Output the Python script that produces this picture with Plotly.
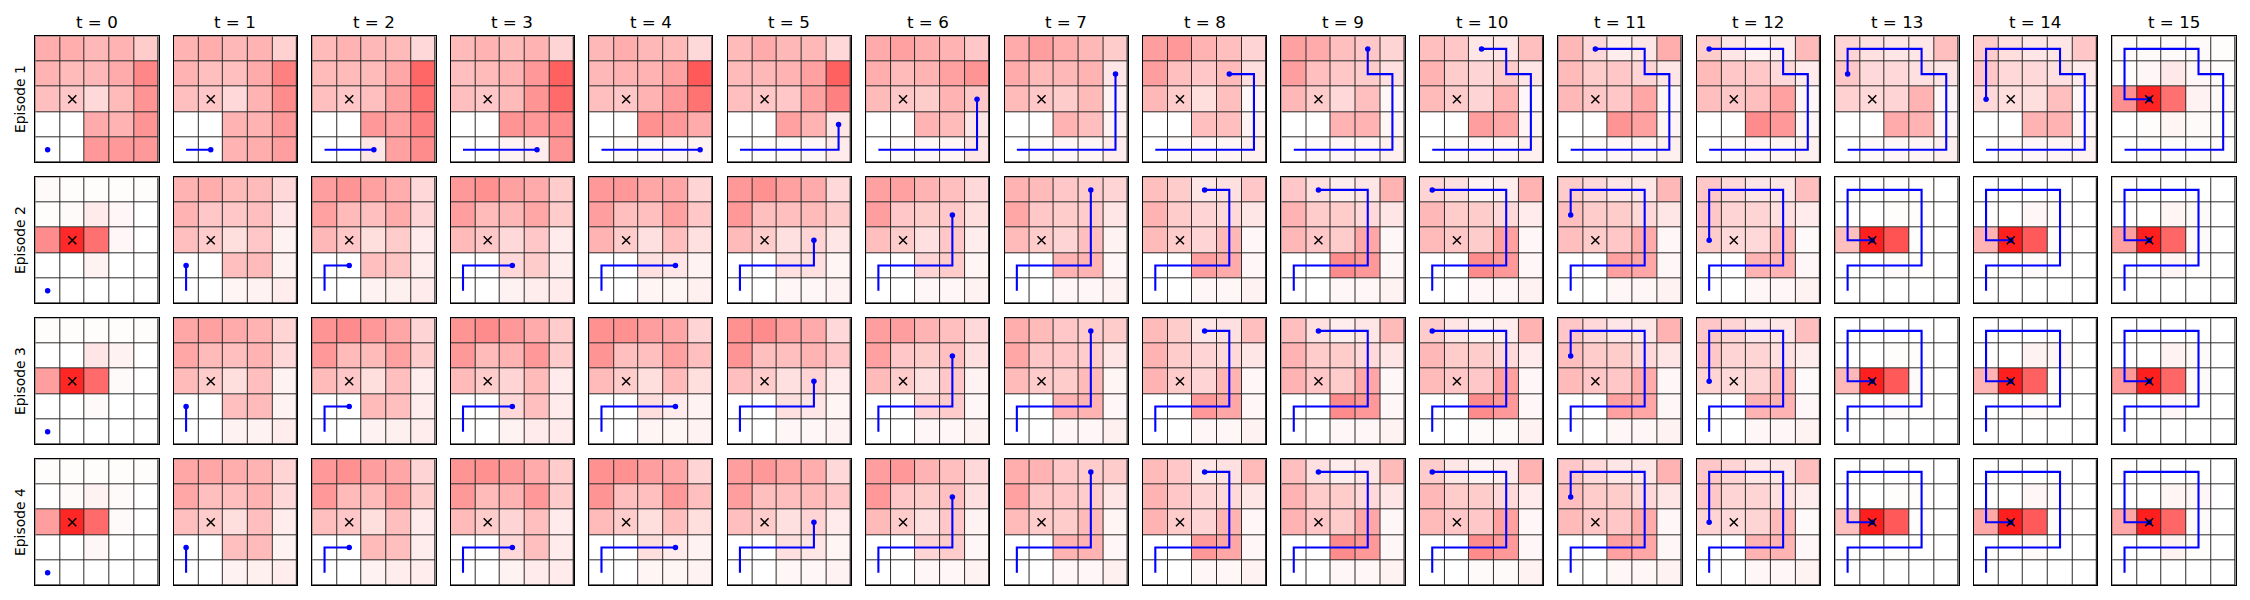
import plotly.graph_objects as go

# ---------------- data ----------------
time_steps = list(range(16))
episode_labels = ["Episode 1", "Episode 2", "Episode 3", "Episode 4"]
goal_col, goal_row = 1, 2

# agent positions (column, row from top) at each time step
ep1_path_cols = [0, 1, 2, 3, 4, 4, 4, 4, 3, 3, 2, 1, 0, 0, 0, 1]
ep1_path_rows = [4, 4, 4, 4, 4, 3, 2, 1, 1, 0, 0, 0, 0, 1, 2, 2]
ep2_path_cols = [0, 0, 1, 2, 3, 3, 3, 3, 2, 1, 0, 0, 0, 1, 1, 1]
ep2_path_rows = [4, 3, 3, 3, 3, 2, 1, 0, 0, 0, 0, 1, 2, 2, 2, 2]
ep3_path_cols = [0, 0, 1, 2, 3, 3, 3, 3, 2, 1, 0, 0, 0, 1, 1, 1]
ep3_path_rows = [4, 3, 3, 3, 3, 2, 1, 0, 0, 0, 0, 1, 2, 2, 2, 2]
ep4_path_cols = [0, 0, 1, 2, 3, 3, 3, 3, 2, 1, 0, 0, 0, 1, 1, 1]
ep4_path_rows = [4, 3, 3, 3, 3, 2, 1, 0, 0, 0, 0, 1, 2, 2, 2, 2]

# 5x5 maps per time step (rows top -> bottom)
ep1_heat = [
    [[0.32, 0.32, 0.28, 0.30, 0.20], [0.30, 0.27, 0.28, 0.33, 0.47], [0.25, 0.22, 0.15, 0.27, 0.42], [0, 0, 0.33, 0.30, 0.42], [0, 0, 0.40, 0.40, 0.40]],
    [[0.30, 0.32, 0.28, 0.30, 0.18], [0.30, 0.25, 0.25, 0.33, 0.50], [0.25, 0.22, 0.15, 0.30, 0.45], [0, 0, 0.30, 0.30, 0.40], [0, 0, 0.30, 0.32, 0.38]],
    [[0.27, 0.30, 0.28, 0.27, 0.15], [0.27, 0.27, 0.27, 0.35, 0.60], [0.25, 0.22, 0.25, 0.37, 0.55], [0, 0, 0.40, 0.37, 0.50], [0, 0, 0.10, 0.37, 0.45]],
    [[0.27, 0.30, 0.27, 0.30, 0.17], [0.25, 0.27, 0.30, 0.40, 0.62], [0.25, 0.22, 0.27, 0.42, 0.58], [0, 0, 0.42, 0.40, 0.45], [0, 0, 0.05, 0.07, 0.42]],
    [[0.28, 0.32, 0.28, 0.27, 0.15], [0.28, 0.30, 0.30, 0.37, 0.65], [0.25, 0.22, 0.30, 0.40, 0.55], [0, 0, 0.43, 0.40, 0.33], [0, 0.02, 0.03, 0.03, 0.05]],
    [[0.27, 0.33, 0.28, 0.28, 0.15], [0.27, 0.28, 0.30, 0.37, 0.62], [0.25, 0.22, 0.22, 0.37, 0.50], [0, 0, 0.37, 0.30, 0.10], [0, 0.01, 0.02, 0.03, 0.08]],
    [[0.33, 0.37, 0.32, 0.30, 0.22], [0.32, 0.27, 0.30, 0.37, 0.42], [0.27, 0.22, 0.20, 0.30, 0.22], [0, 0, 0.30, 0.27, 0.10], [0, 0.02, 0.03, 0.04, 0.10]],
    [[0.33, 0.38, 0.32, 0.28, 0.20], [0.33, 0.27, 0.28, 0.30, 0.10], [0.27, 0.22, 0.20, 0.27, 0.05], [0, 0, 0.30, 0.25, 0.05], [0, 0.02, 0.03, 0.04, 0.07]],
    [[0.38, 0.40, 0.30, 0.25, 0.17], [0.38, 0.25, 0.22, 0.27, 0.13], [0.28, 0.20, 0.13, 0.25, 0.03], [0, 0, 0.25, 0.25, 0.05], [0, 0.02, 0.03, 0.04, 0.06]],
    [[0.37, 0.33, 0.25, 0.22, 0.17], [0.38, 0.25, 0.22, 0.20, 0.12], [0.28, 0.20, 0.15, 0.25, 0.03], [0, 0, 0.30, 0.30, 0.04], [0, 0.02, 0.03, 0.04, 0.06]],
    [[0.25, 0.22, 0.10, 0.10, 0.25], [0.30, 0.20, 0.17, 0.20, 0.10], [0.27, 0.20, 0.17, 0.30, 0.03], [0, 0, 0.38, 0.35, 0.04], [0, 0.02, 0.03, 0.04, 0.06]],
    [[0.28, 0.15, 0.07, 0.10, 0.32], [0.27, 0.20, 0.22, 0.17, 0.10], [0.28, 0.22, 0.22, 0.35, 0.03], [0, 0, 0.42, 0.37, 0.04], [0, 0.02, 0.03, 0.04, 0.06]],
    [[0.20, 0.10, 0.05, 0.07, 0.27], [0.27, 0.22, 0.22, 0.15, 0.08], [0.25, 0.22, 0.25, 0.37, 0.03], [0, 0, 0.45, 0.40, 0.03], [0, 0.02, 0.03, 0.04, 0.06]],
    [[0.17, 0.12, 0.10, 0.10, 0.25], [0.22, 0.15, 0.15, 0.12, 0.10], [0.18, 0.15, 0.17, 0.30, 0.03], [0, 0, 0.33, 0.30, 0.03], [0, 0.02, 0.03, 0.04, 0.06]],
    [[0.20, 0.13, 0.10, 0.10, 0.22], [0.22, 0.15, 0.15, 0.12, 0.08], [0.15, 0.13, 0.13, 0.25, 0.03], [0, 0, 0.30, 0.30, 0.03], [0, 0.02, 0.03, 0.04, 0.05]],
    [[0.02, 0.02, 0.02, 0.02, 0.01], [0.01, 0.03, 0.09, 0.03, 0.01], [0.44, 0.86, 0.56, 0.05, 0.02], [0, 0.01, 0.04, 0.02, 0.01], [0, 0.01, 0.01, 0.01, 0.01]],
]

ep2_heat = [
    [[0.02, 0.01, 0.01, 0.01, 0.01], [0.01, 0.02, 0.08, 0.03, 0], [0.45, 0.84, 0.56, 0.03, 0], [0, 0, 0.05, 0, 0], [0, 0, 0, 0, 0]],
    [[0.30, 0.32, 0.27, 0.27, 0.15], [0.30, 0.22, 0.22, 0.25, 0.10], [0.25, 0.20, 0.13, 0.22, 0.05], [0, 0, 0.25, 0.27, 0.05], [0, 0, 0.04, 0.05, 0.07]],
    [[0.38, 0.42, 0.37, 0.32, 0.15], [0.37, 0.27, 0.25, 0.33, 0.17], [0.28, 0.22, 0.13, 0.20, 0.08], [0, 0, 0.25, 0.23, 0.07], [0, 0, 0.05, 0.06, 0.08]],
    [[0.40, 0.43, 0.37, 0.33, 0.20], [0.38, 0.27, 0.28, 0.35, 0.20], [0.27, 0.22, 0.15, 0.22, 0.08], [0, 0, 0.15, 0.20, 0.07], [0, 0, 0.05, 0.07, 0.08]],
    [[0.40, 0.40, 0.35, 0.35, 0.17], [0.38, 0.25, 0.25, 0.37, 0.22], [0.30, 0.20, 0.12, 0.25, 0.12], [0, 0, 0.12, 0.10, 0.05], [0, 0, 0.04, 0.04, 0.06]],
    [[0.40, 0.43, 0.37, 0.33, 0.15], [0.40, 0.25, 0.25, 0.27, 0.20], [0.27, 0.20, 0.12, 0.17, 0.10], [0, 0, 0.12, 0.12, 0.04], [0, 0, 0.03, 0.03, 0.05]],
    [[0.37, 0.37, 0.30, 0.25, 0.15], [0.38, 0.22, 0.20, 0.22, 0.13], [0.25, 0.20, 0.12, 0.22, 0.07], [0, 0, 0.17, 0.20, 0.04], [0, 0, 0.03, 0.03, 0.05]],
    [[0.30, 0.27, 0.22, 0.20, 0.17], [0.35, 0.22, 0.20, 0.20, 0.10], [0.27, 0.20, 0.17, 0.25, 0.05], [0, 0, 0.30, 0.30, 0.03], [0, 0, 0.03, 0.03, 0.05]],
    [[0.25, 0.20, 0.10, 0.12, 0.22], [0.30, 0.20, 0.17, 0.15, 0.10], [0.27, 0.20, 0.17, 0.28, 0.03], [0, 0, 0.38, 0.33, 0.03], [0, 0, 0.03, 0.03, 0.05]],
    [[0.22, 0.12, 0.07, 0.10, 0.30], [0.30, 0.20, 0.20, 0.15, 0.10], [0.28, 0.22, 0.20, 0.35, 0.03], [0, 0, 0.45, 0.40, 0.03], [0, 0, 0.03, 0.03, 0.05]],
    [[0.17, 0.12, 0.05, 0.07, 0.30], [0.28, 0.20, 0.20, 0.15, 0.08], [0.27, 0.22, 0.20, 0.37, 0.03], [0, 0, 0.45, 0.40, 0.03], [0, 0, 0.03, 0.03, 0.05]],
    [[0.20, 0.15, 0.10, 0.10, 0.28], [0.25, 0.20, 0.20, 0.15, 0.10], [0.25, 0.20, 0.22, 0.33, 0.03], [0, 0, 0.37, 0.35, 0.03], [0, 0, 0.03, 0.03, 0.05]],
    [[0.22, 0.15, 0.10, 0.10, 0.25], [0.22, 0.17, 0.17, 0.12, 0.08], [0.20, 0.15, 0.15, 0.27, 0.02], [0, 0, 0.30, 0.30, 0.03], [0, 0, 0.03, 0.03, 0.05]],
    [[0.01, 0.01, 0.01, 0.01, 0], [0, 0, 0.01, 0.01, 0], [0.25, 0.88, 0.68, 0.01, 0], [0, 0, 0.02, 0.01, 0], [0, 0, 0, 0, 0]],
    [[0, 0, 0, 0, 0], [0, 0, 0.03, 0.01, 0], [0.30, 0.88, 0.65, 0.01, 0], [0, 0, 0.02, 0, 0], [0, 0, 0, 0, 0]],
    [[0.01, 0, 0, 0, 0], [0, 0, 0.04, 0.02, 0], [0.38, 0.88, 0.60, 0.02, 0], [0, 0, 0.04, 0.01, 0], [0, 0, 0, 0, 0]],
]

ep3_heat = [
    [[0.01, 0.01, 0.01, 0.01, 0.01], [0, 0, 0.10, 0.05, 0], [0.38, 0.85, 0.58, 0.02, 0], [0, 0, 0.02, 0, 0], [0, 0, 0, 0, 0]],
    [[0.35, 0.37, 0.33, 0.30, 0.17], [0.35, 0.27, 0.25, 0.30, 0.15], [0.27, 0.20, 0.13, 0.25, 0.05], [0, 0, 0.25, 0.27, 0.05], [0, 0, 0.05, 0.05, 0.07]],
    [[0.42, 0.45, 0.40, 0.35, 0.17], [0.40, 0.27, 0.27, 0.37, 0.20], [0.27, 0.22, 0.13, 0.25, 0.07], [0, 0, 0.27, 0.25, 0.07], [0, 0, 0.05, 0.06, 0.07]],
    [[0.42, 0.45, 0.40, 0.33, 0.20], [0.40, 0.27, 0.30, 0.40, 0.20], [0.27, 0.20, 0.17, 0.27, 0.08], [0, 0, 0.15, 0.25, 0.08], [0, 0, 0.05, 0.08, 0.08]],
    [[0.43, 0.43, 0.38, 0.35, 0.17], [0.42, 0.25, 0.25, 0.37, 0.25], [0.27, 0.20, 0.13, 0.27, 0.13], [0, 0, 0.13, 0.08, 0.05], [0, 0, 0.04, 0.04, 0.05]],
    [[0.43, 0.45, 0.37, 0.33, 0.15], [0.42, 0.25, 0.25, 0.30, 0.22], [0.25, 0.20, 0.12, 0.17, 0.08], [0, 0, 0.12, 0.10, 0.04], [0, 0, 0.03, 0.03, 0.05]],
    [[0.38, 0.38, 0.30, 0.25, 0.15], [0.37, 0.22, 0.20, 0.25, 0.12], [0.27, 0.20, 0.12, 0.22, 0.05], [0, 0, 0.17, 0.20, 0.03], [0, 0, 0.03, 0.03, 0.05]],
    [[0.32, 0.27, 0.22, 0.20, 0.20], [0.35, 0.22, 0.22, 0.20, 0.10], [0.27, 0.20, 0.20, 0.27, 0.04], [0, 0, 0.30, 0.30, 0.03], [0, 0, 0.03, 0.03, 0.06]],
    [[0.27, 0.20, 0.10, 0.12, 0.25], [0.30, 0.20, 0.17, 0.15, 0.10], [0.30, 0.20, 0.17, 0.30, 0.03], [0, 0, 0.40, 0.35, 0.03], [0, 0, 0.03, 0.03, 0.05]],
    [[0.25, 0.12, 0.07, 0.10, 0.27], [0.30, 0.20, 0.20, 0.15, 0.10], [0.30, 0.22, 0.20, 0.35, 0.03], [0, 0, 0.45, 0.40, 0.03], [0, 0, 0.03, 0.03, 0.05]],
    [[0.20, 0.10, 0.05, 0.07, 0.30], [0.28, 0.20, 0.20, 0.15, 0.08], [0.27, 0.22, 0.22, 0.37, 0.03], [0, 0, 0.45, 0.40, 0.03], [0, 0, 0.02, 0.02, 0.05]],
    [[0.22, 0.15, 0.10, 0.10, 0.30], [0.25, 0.20, 0.20, 0.15, 0.10], [0.27, 0.22, 0.22, 0.33, 0.03], [0, 0, 0.37, 0.35, 0.03], [0, 0, 0.03, 0.03, 0.05]],
    [[0.22, 0.17, 0.10, 0.10, 0.25], [0.22, 0.17, 0.17, 0.12, 0.07], [0.17, 0.15, 0.17, 0.27, 0.02], [0, 0, 0.30, 0.30, 0.03], [0, 0, 0.03, 0.03, 0.05]],
    [[0, 0, 0, 0, 0], [0, 0, 0.01, 0.01, 0], [0.28, 0.88, 0.65, 0.02, 0], [0, 0, 0.02, 0.01, 0], [0, 0, 0, 0, 0]],
    [[0, 0, 0, 0, 0], [0, 0, 0.05, 0.03, 0], [0.30, 0.88, 0.62, 0.01, 0], [0, 0, 0.02, 0, 0], [0, 0, 0, 0, 0]],
    [[0, 0, 0, 0, 0], [0, 0, 0.05, 0.02, 0], [0.40, 0.88, 0.60, 0.02, 0], [0, 0, 0.03, 0, 0], [0, 0, 0, 0, 0]],
]

ep4_heat = [
    [[0.01, 0.01, 0.01, 0.01, 0.01], [0, 0.02, 0.05, 0.02, 0], [0.38, 0.85, 0.58, 0.02, 0], [0, 0, 0.03, 0, 0], [0, 0, 0, 0, 0]],
    [[0.35, 0.35, 0.32, 0.30, 0.17], [0.35, 0.25, 0.25, 0.30, 0.15], [0.25, 0.20, 0.13, 0.25, 0.07], [0, 0, 0.25, 0.27, 0.05], [0, 0, 0.05, 0.06, 0.07]],
    [[0.40, 0.43, 0.38, 0.35, 0.17], [0.40, 0.27, 0.27, 0.37, 0.20], [0.25, 0.22, 0.13, 0.25, 0.08], [0, 0, 0.27, 0.25, 0.07], [0, 0, 0.05, 0.07, 0.07]],
    [[0.42, 0.43, 0.40, 0.33, 0.20], [0.40, 0.27, 0.30, 0.40, 0.20], [0.27, 0.20, 0.17, 0.25, 0.08], [0, 0, 0.15, 0.25, 0.08], [0, 0, 0.05, 0.08, 0.08]],
    [[0.43, 0.43, 0.38, 0.35, 0.17], [0.42, 0.25, 0.25, 0.40, 0.25], [0.27, 0.20, 0.13, 0.25, 0.13], [0, 0, 0.13, 0.08, 0.05], [0, 0, 0.04, 0.04, 0.05]],
    [[0.38, 0.40, 0.35, 0.32, 0.15], [0.38, 0.25, 0.25, 0.27, 0.22], [0.25, 0.20, 0.12, 0.17, 0.08], [0, 0, 0.12, 0.10, 0.04], [0, 0, 0.03, 0.03, 0.05]],
    [[0.38, 0.40, 0.30, 0.25, 0.15], [0.40, 0.22, 0.20, 0.25, 0.12], [0.27, 0.20, 0.12, 0.22, 0.05], [0, 0, 0.17, 0.20, 0.03], [0, 0, 0.03, 0.03, 0.05]],
    [[0.32, 0.30, 0.22, 0.20, 0.20], [0.37, 0.22, 0.22, 0.20, 0.10], [0.27, 0.20, 0.20, 0.27, 0.04], [0, 0, 0.30, 0.30, 0.03], [0, 0, 0.03, 0.03, 0.06]],
    [[0.27, 0.22, 0.10, 0.12, 0.27], [0.30, 0.22, 0.17, 0.15, 0.10], [0.30, 0.20, 0.17, 0.30, 0.03], [0, 0, 0.40, 0.35, 0.03], [0, 0, 0.03, 0.03, 0.05]],
    [[0.25, 0.12, 0.07, 0.10, 0.27], [0.30, 0.20, 0.20, 0.15, 0.10], [0.30, 0.22, 0.20, 0.35, 0.03], [0, 0, 0.45, 0.40, 0.03], [0, 0, 0.03, 0.03, 0.05]],
    [[0.20, 0.10, 0.05, 0.07, 0.30], [0.28, 0.20, 0.20, 0.15, 0.08], [0.27, 0.22, 0.22, 0.37, 0.03], [0, 0, 0.45, 0.40, 0.03], [0, 0, 0.02, 0.02, 0.05]],
    [[0.22, 0.15, 0.10, 0.10, 0.30], [0.25, 0.20, 0.20, 0.15, 0.10], [0.27, 0.22, 0.22, 0.33, 0.03], [0, 0, 0.37, 0.35, 0.03], [0, 0, 0.03, 0.03, 0.05]],
    [[0.22, 0.17, 0.10, 0.10, 0.25], [0.22, 0.17, 0.17, 0.12, 0.07], [0.17, 0.15, 0.17, 0.27, 0.02], [0, 0, 0.30, 0.30, 0.03], [0, 0, 0.03, 0.03, 0.05]],
    [[0, 0, 0, 0, 0], [0, 0, 0.01, 0.01, 0], [0.25, 0.88, 0.65, 0.01, 0], [0, 0, 0.01, 0, 0], [0, 0, 0, 0, 0]],
    [[0, 0, 0, 0, 0], [0, 0, 0.03, 0.01, 0], [0.35, 0.88, 0.65, 0.01, 0], [0, 0, 0.02, 0, 0], [0, 0, 0, 0, 0]],
    [[0.01, 0, 0, 0, 0], [0, 0, 0.04, 0.03, 0], [0.35, 0.88, 0.60, 0.02, 0], [0, 0, 0.05, 0.01, 0], [0, 0, 0, 0, 0]],
]

# ---------------- figure ----------------
PAGE_W, PAGE_H = 2250, 600
OFF = 8                               # default body margin of the html page
W, H = PAGE_W - 2 * OFF, PAGE_H - 2 * OFF
L0, DX, PW = 35.3, 138.46, 123.3      # panel left, column pitch, panel width (page px)
T0, DY, PH = 36.3, 141.0, 126.0       # panel top, row pitch, panel height (page px)
FONT = "DejaVu Sans"


def fx(px):
    return (px - OFF) / W


def fy(py):
    return 1 - (py - OFF) / H


heats = [ep1_heat, ep2_heat, ep3_heat, ep4_heat]
paths = [(ep1_path_cols, ep1_path_rows), (ep2_path_cols, ep2_path_rows),
         (ep3_path_cols, ep3_path_rows), (ep4_path_cols, ep4_path_rows)]
cells = [0, 1, 2, 3, 4]
colorscale = [[0.0, "#ffffff"], [1.0, "#ff0000"]]

fig = go.Figure()
layout_axes = {}
annotations = []

for r in range(len(episode_labels)):
    top = T0 + r * DY
    for t in time_steps:
        k = r * len(time_steps) + t + 1
        xa = "x" if k == 1 else f"x{k}"
        ya = "y" if k == 1 else f"y{k}"
        left = L0 + t * DX
        fig.add_trace(go.Heatmap(
            z=heats[r][t], x=cells, y=cells, zmin=0, zmax=1,
            colorscale=colorscale, showscale=False, xgap=1, ygap=1,
            hoverinfo="skip", xaxis=xa, yaxis=ya))
        pc, pr = paths[r]
        if t > 0:
            fig.add_trace(go.Scatter(
                x=pc[:t + 1], y=pr[:t + 1], mode="lines",
                line=dict(color="#0000ff", width=2.1), hoverinfo="skip",
                showlegend=False, xaxis=xa, yaxis=ya))
        fig.add_trace(go.Scatter(
            x=[pc[t]], y=[pr[t]], mode="markers",
            marker=dict(color="#0000ff", size=5.5), hoverinfo="skip",
            showlegend=False, xaxis=xa, yaxis=ya))
        fig.add_trace(go.Scatter(
            x=[goal_col], y=[goal_row], mode="markers",
            marker=dict(symbol="x-thin", size=8, color="black",
                        line=dict(color="black", width=1.5)),
            hoverinfo="skip", showlegend=False, xaxis=xa, yaxis=ya))
        xkey = "xaxis" if k == 1 else f"xaxis{k}"
        ykey = "yaxis" if k == 1 else f"yaxis{k}"
        layout_axes[xkey] = dict(
            domain=[fx(left), fx(left + PW)], range=[-0.5, 4.5],
            anchor=ya, showticklabels=False, ticks="", showgrid=False,
            zeroline=False, showline=True, mirror=True,
            linecolor="black", linewidth=1.3, fixedrange=True)
        layout_axes[ykey] = dict(
            domain=[fy(top + PH), fy(top)], range=[4.5, -0.5],
            anchor=xa, showticklabels=False, ticks="", showgrid=False,
            zeroline=False, showline=True, mirror=True,
            linecolor="black", linewidth=1.3, fixedrange=True)
        if r == 0:
            annotations.append(dict(
                text=f"t = {t}", x=fx(left + PW / 2), y=fy(22.0),
                xref="paper", yref="paper", xanchor="center", yanchor="middle",
                showarrow=False, font=dict(family=FONT, size=16.7, color="black")))
    annotations.append(dict(
        text=episode_labels[r], x=fx(20.7), y=fy(top + PH / 2),
        xref="paper", yref="paper", xanchor="center", yanchor="middle",
        textangle=-90, showarrow=False,
        font=dict(family=FONT, size=13.9, color="black")))

fig.update_layout(
    width=W, height=H, margin=dict(l=0, r=0, t=0, b=0),
    paper_bgcolor="white", plot_bgcolor="#2b2b2b",
    showlegend=False, annotations=annotations, **layout_axes)

fig.write_html("out.html")
